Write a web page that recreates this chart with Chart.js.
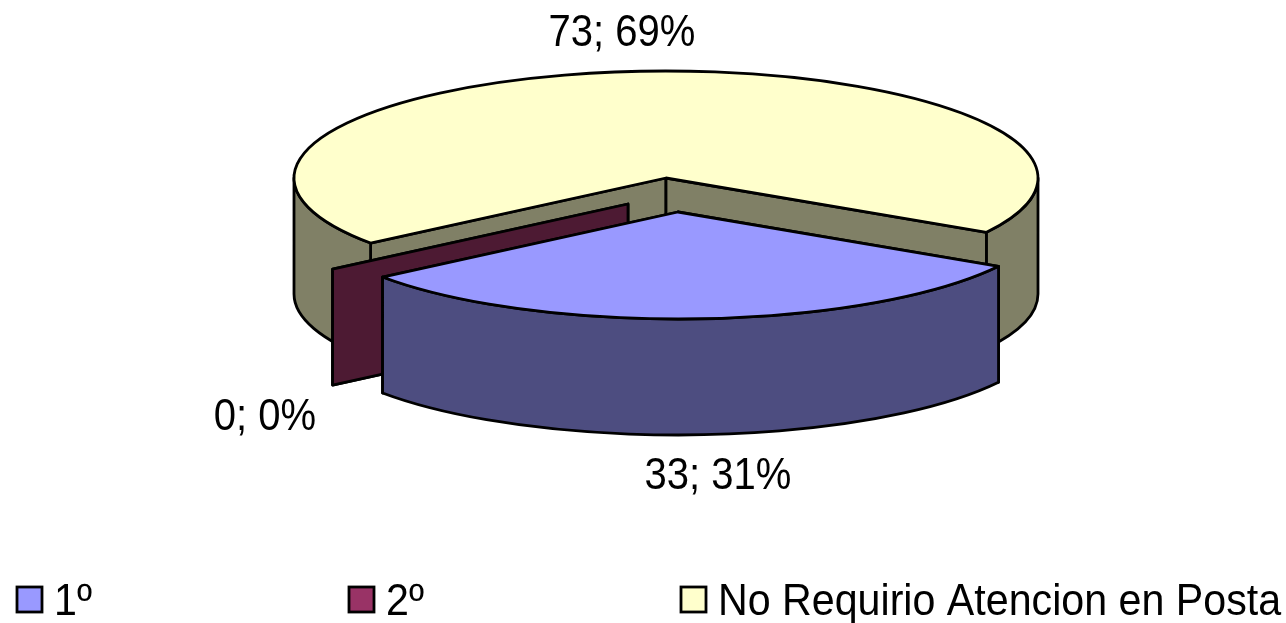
<!DOCTYPE html>
<html><head><meta charset="utf-8">
<style>html,body{margin:0;padding:0;background:#fff;overflow:hidden}canvas{display:block}</style>
<script src="https://cdn.jsdelivr.net/npm/chart.js@4"></script>
</head><body><canvas id="c" width="1286" height="623"></canvas>
<script>
const categories = ["1º", "2º", "No Requirio Atencion en Posta"];
const values = [33, 0, 73];
const topColors = ["#9999FF", "#993366", "#FFFFCC"];
const sideColors = ["#4D4D80", "#4D1A33", "#808066"];

const RX = 372, RY = 107, DEPTH = 116;
const EXPLODE = [[12, 34], [-38, 26], [0, 0]];
const LABEL_POS = [[718, 477], [265, 418], [622, 34]];
const LEGEND_X = [16, 348, 680], LEGEND_Y = 600;
const FONT = '45px "Liberation Sans", Arial, sans-serif';
const LABEL_FX = 0.89, LEGEND_FX = 0.915;

function text(ctx, s, x, y, align, fx) {
  ctx.save();
  ctx.font = FONT; ctx.fillStyle = "#000"; ctx.textBaseline = "middle"; ctx.textAlign = align;
  ctx.translate(x, y); ctx.scale(fx, 1); ctx.fillText(s, 0, 0);
  ctx.restore();
}

const pie3d = {
  id: "pie3d",
  beforeDatasetsDraw(chart) {
    const ctx = chart.ctx, arcs = chart.getDatasetMeta(0).data;
    const total = values.reduce((a, b) => a + b, 0);
    ctx.save();
    ctx.lineWidth = 2.8; ctx.strokeStyle = "#000"; ctx.lineJoin = "round";
    const pt = (cx, cy, a) => [cx + RX * Math.cos(a), cy + RY * Math.sin(a)];
    const poly = (pts, fill) => {
      ctx.beginPath(); pts.forEach((p, i) => i ? ctx.lineTo(p[0], p[1]) : ctx.moveTo(p[0], p[1]));
      ctx.closePath(); ctx.fillStyle = fill; ctx.fill(); ctx.stroke();
    };
    [2, 1, 0].forEach(i => {
      const arc = arcs[i];
      const cx = arc.x + EXPLODE[i][0], cy = arc.y + EXPLODE[i][1];
      const s = arc.startAngle, e = arc.endAngle;
      const ps = pt(cx, cy, s), pe = pt(cx, cy, e);
      poly([[cx, cy], ps, [ps[0], ps[1] + DEPTH], [cx, cy + DEPTH]], sideColors[i]);
      poly([[cx, cy], pe, [pe[0], pe[1] + DEPTH], [cx, cy + DEPTH]], sideColors[i]);
      const ranges = [];
      const tau = Math.PI * 2;
      for (let k = -1; k <= 1; k++) {
        const a = Math.max(s, k * tau), b = Math.min(e, k * tau + Math.PI);
        if (b > a) ranges.push([a, b]);
      }
      ranges.forEach(([a, b]) => {
        ctx.beginPath();
        ctx.ellipse(cx, cy, RX, RY, 0, a, b);
        ctx.ellipse(cx, cy + DEPTH, RX, RY, 0, b, a, true);
        ctx.closePath(); ctx.fillStyle = sideColors[i]; ctx.fill(); ctx.stroke();
      });
      if (e > s) {
        ctx.beginPath(); ctx.moveTo(cx, cy);
        ctx.ellipse(cx, cy, RX, RY, 0, s, e);
        ctx.closePath(); ctx.fillStyle = topColors[i]; ctx.fill(); ctx.stroke();
      }
    });
    ctx.restore();
    values.forEach((v, i) => {
      text(ctx, v + "; " + Math.round(v / total * 100) + "%", LABEL_POS[i][0], LABEL_POS[i][1], "center", LABEL_FX);
    });
    categories.forEach((c, i) => {
      ctx.save();
      ctx.fillStyle = topColors[i]; ctx.strokeStyle = "#000"; ctx.lineWidth = 2.8;
      ctx.fillRect(LEGEND_X[i] + 1, LEGEND_Y - 13, 25, 25);
      ctx.strokeRect(LEGEND_X[i] + 1, LEGEND_Y - 13, 25, 25);
      ctx.restore();
      text(ctx, c, LEGEND_X[i] + 38, LEGEND_Y + 3, "left", LEGEND_FX);
    });
    return false;
  },
  beforeDatasetDraw() { return false; }
};

new Chart(document.getElementById("c"), {
  type: "pie",
  data: { labels: categories, datasets: [{ data: values, backgroundColor: topColors, borderColor: "#000" }] },
  options: {
    responsive: false, animation: false, rotation: 120.5,
    layout: { padding: { left: 46, bottom: 267 } },
    plugins: { legend: { display: false }, tooltip: { enabled: false } }
  },
  plugins: [pie3d]
});
</script></body></html>
